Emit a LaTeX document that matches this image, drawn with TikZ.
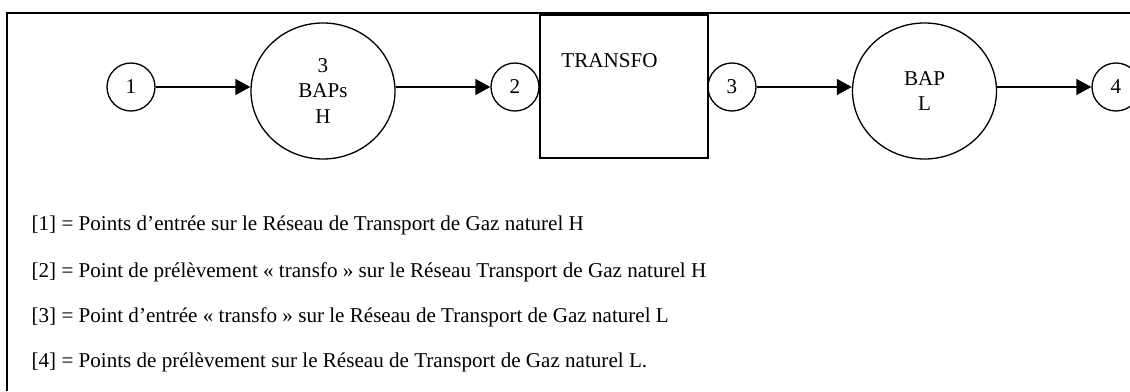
\documentclass[tikz,border=0pt]{standalone}
\usepackage{fontspec}
\setmainfont{Liberation Serif}
\usetikzlibrary{arrows.meta,shapes.geometric}
\begin{document}
\begin{tikzpicture}[line width=0.75pt,font=\fontsize{12}{14.5}\selectfont,
	pt/.style={draw,circle,minimum size=0.96cm,inner sep=0pt},
	bap/.style={draw,ellipse,minimum width=2.88cm,minimum height=2.72cm,inner sep=0pt,align=center},
	fl/.style={-{Triangle[length=0.3cm,width=0.32cm]}},
	legende/.style={anchor=west,inner sep=0pt}]
	\useasboundingbox (0,0) rectangle (22.6,7.82);
	% cadre
	\draw (0.14,0) -- (0.14,7.56) -- (22.6,7.56);
	% chaine H -> L
	\node[pt] (p1) at (2.62,6.08) {1};
	\node[bap] (bapsh) at (6.46,6.00) {3\\BAPs\\H};
	\node[pt] (p2) at (10.30,6.08) {2};
	\node[draw,minimum width=3.36cm,minimum height=2.86cm,inner sep=0pt] (transfo) at (12.48,6.09) {};
	\node (transfotxt) at (12.19,6.60) {TRANSFO};
	\node[pt] (p3) at (14.64,6.08) {3};
	\node[bap] (bapl) at (18.49,6.00) {BAP\\L};
	\node[pt] (p4) at (22.32,6.08) {4};
	\draw[fl] (p1) -- (bapsh.west |- p1);
	\draw[fl] (bapsh.east |- p2) -- (p2);
	\draw[fl] (p3) -- (bapl.west |- p3);
	\draw[fl] (bapl.east |- p4) -- (p4);
	% legende
	\node[legende] (l1) at (0.62,3.32) {[1] = Points d’entrée sur le Réseau de Transport de Gaz naturel H};
	\node[legende] (l2) at (0.62,2.38) {[2] = Point de prélèvement « transfo » sur le Réseau Transport de Gaz naturel H};
	\node[legende] (l3) at (0.62,1.48) {[3] = Point d’entrée « transfo » sur le Réseau de Transport de Gaz naturel L};
	\node[legende] (l4) at (0.62,0.58) {[4] = Points de prélèvement sur le Réseau de Transport de Gaz naturel L.};
\end{tikzpicture}
\end{document}
